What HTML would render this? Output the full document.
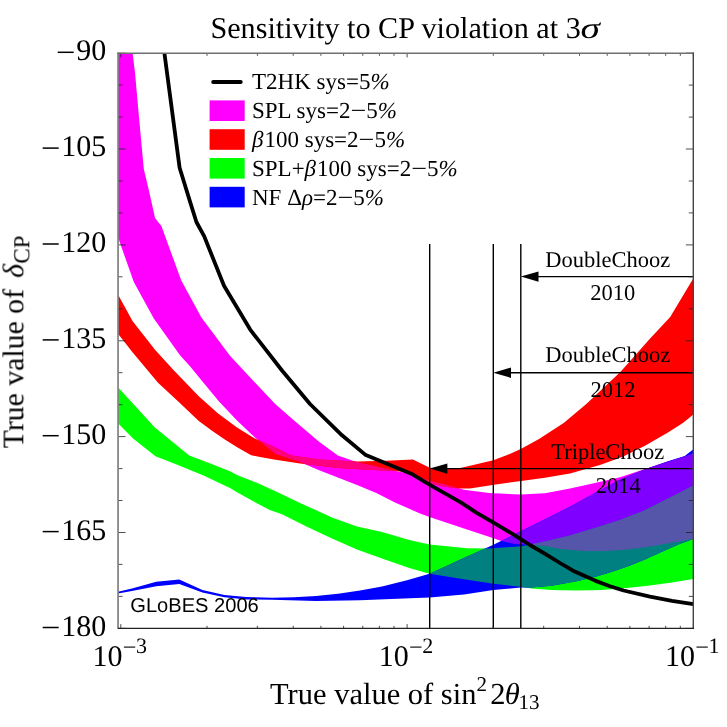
<!DOCTYPE html>
<html><head><meta charset="utf-8"><title>Sensitivity to CP violation</title>
<style>
html,body{margin:0;padding:0;background:#fff;}
body{width:727px;height:727px;overflow:hidden;font-family:"Liberation Serif",serif;}
svg{display:block}
svg text{text-rendering:geometricPrecision;font-family:"Liberation Serif",serif;fill:#000}
.sans{font-family:"Liberation Sans",sans-serif}
.it{font-style:italic}
</style></head><body>
<svg width="727" height="727" viewBox="0 0 727 727">
<defs>
<clipPath id="cf"><rect x="118.05" y="53.2" width="575.25" height="575.15"/></clipPath>
<clipPath id="cRed"><polygon points="118.0,294.5 132.5,320.9 155.0,349.7 173.5,370.0 198.5,396.0 217.8,413.3 237.0,427.4 254.4,438.2 275.5,447.4 291.6,455.6 318.5,459.5 357.0,461.4 386.0,460.8 412.9,459.5 429.7,467.8 445.0,468.8 458.0,468.4 470.0,465.8 493.3,460.3 506.5,455.3 520.8,449.0 539.0,439.0 564.0,422.8 586.3,404.0 620.1,372.2 650.1,338.4 670.2,317.1 693.4,278.3 693.4,414.4 683.2,422.7 668.0,432.5 645.4,445.4 622.7,456.7 600.0,465.1 570.0,473.4 545.0,477.8 521.0,481.0 494.0,484.8 470.0,488.4 461.3,488.5 451.0,487.8 440.6,486.0 429.5,483.3 420.0,477.8 410.9,472.4 395.5,471.0 366.7,469.7 337.8,468.1 300.0,463.4 275.5,459.7 260.0,457.0 251.2,455.3 238.0,447.8 224.8,439.6 212.0,430.8 198.5,420.8 179.3,402.6 158.0,382.8 132.5,352.3 118.0,333.8"/></clipPath>
<clipPath id="cGrn"><polygon points="118.0,387.2 133.8,404.5 154.6,427.3 189.2,455.4 209.0,463.0 230.0,471.3 237.0,475.0 256.3,482.6 275.5,491.3 300.0,502.9 332.0,517.5 357.0,526.5 382.0,532.0 409.3,540.1 429.5,544.6 467.0,548.2 489.0,548.6 521.6,546.3 545.0,541.5 570.0,535.4 595.0,528.0 620.0,520.0 645.0,510.2 670.0,497.5 693.4,485.5 693.4,578.9 672.0,582.4 650.0,585.5 626.7,588.0 601.7,589.9 576.7,590.4 551.6,589.9 531.6,588.6 520.8,586.8 493.3,583.8 464.0,579.2 429.5,573.7 409.3,568.0 382.0,558.5 357.0,549.5 332.0,538.5 307.0,526.7 282.0,514.2 269.8,510.0 256.3,502.9 237.0,492.3 230.0,488.1 204.1,475.7 176.0,464.2 155.5,456.3 133.1,438.6 118.0,423.3"/></clipPath>
<clipPath id="cBlu"><polygon points="118.0,591.7 132.0,588.4 156.2,581.8 179.3,579.6 202.4,589.9 224.4,595.0 246.4,597.1 272.0,597.8 294.0,597.2 316.0,595.9 338.0,593.7 360.0,590.6 382.0,586.5 407.0,580.2 429.5,573.7 467.0,556.5 494.0,544.4 521.0,531.0 545.0,519.2 570.0,506.6 595.0,492.9 620.0,479.6 645.0,469.2 668.0,461.3 684.7,456.0 693.4,449.2 693.4,539.0 679.0,544.2 662.5,551.6 646.0,559.0 629.5,565.8 613.0,571.6 596.5,576.5 576.7,581.2 551.6,585.8 531.6,587.4 520.8,587.6 493.3,590.0 464.0,594.6 429.7,597.4 410.0,598.3 360.0,600.3 316.0,601.0 272.0,599.8 246.4,599.5 224.4,597.3 202.4,592.5 179.3,584.1 156.2,586.3 132.0,591.0 118.0,593.6"/></clipPath>
<clipPath id="cMag"><polygon points="118.0,52.3 132.5,52.3 135.0,72.5 138.8,115.0 143.8,169.0 148.8,190.0 155.0,217.7 158.0,222.0 161.3,225.8 181.4,280.8 201.4,317.4 230.2,356.0 250.2,377.5 275.2,404.0 293.5,420.0 318.5,441.2 337.8,455.6 355.0,461.4 376.3,466.2 395.5,471.0 412.0,474.0 429.7,480.7 447.0,485.0 457.0,487.8 464.0,489.8 489.0,493.0 520.8,494.6 545.0,493.2 570.0,488.6 595.0,482.9 620.0,477.2 645.0,468.9 668.0,461.5 684.7,456.5 693.4,453.3 693.4,538.8 672.0,542.8 650.0,546.5 628.0,549.4 606.0,550.9 584.0,550.9 560.0,549.0 545.0,546.0 532.0,544.8 514.4,544.0 501.5,541.0 489.0,536.7 467.0,529.5 429.5,517.0 420.0,513.4 395.5,502.8 376.3,493.0 357.0,485.0 337.8,477.5 318.5,470.0 300.0,462.0 275.5,454.0 254.4,437.0 237.0,420.6 219.0,401.5 200.0,378.5 190.4,366.8 180.0,355.3 153.8,318.4 133.8,282.0 118.0,237.3"/></clipPath>
<filter id="idf" x="0" y="0" width="727" height="727" filterUnits="userSpaceOnUse"><feOffset dx="0" dy="0"/></filter>
</defs>
<rect width="727" height="727" fill="#fff"/>
<g clip-path="url(#cf)">
<polygon points="118.0,52.3 132.5,52.3 135.0,72.5 138.8,115.0 143.8,169.0 148.8,190.0 155.0,217.7 158.0,222.0 161.3,225.8 181.4,280.8 201.4,317.4 230.2,356.0 250.2,377.5 275.2,404.0 293.5,420.0 318.5,441.2 337.8,455.6 355.0,461.4 376.3,466.2 395.5,471.0 412.0,474.0 429.7,480.7 447.0,485.0 457.0,487.8 464.0,489.8 489.0,493.0 520.8,494.6 545.0,493.2 570.0,488.6 595.0,482.9 620.0,477.2 645.0,468.9 668.0,461.5 684.7,456.5 693.4,453.3 693.4,538.8 672.0,542.8 650.0,546.5 628.0,549.4 606.0,550.9 584.0,550.9 560.0,549.0 545.0,546.0 532.0,544.8 514.4,544.0 501.5,541.0 489.0,536.7 467.0,529.5 429.5,517.0 420.0,513.4 395.5,502.8 376.3,493.0 357.0,485.0 337.8,477.5 318.5,470.0 300.0,462.0 275.5,454.0 254.4,437.0 237.0,420.6 219.0,401.5 200.0,378.5 190.4,366.8 180.0,355.3 153.8,318.4 133.8,282.0 118.0,237.3" fill="#ff00ff"/>
<polygon points="118.0,294.5 132.5,320.9 155.0,349.7 173.5,370.0 198.5,396.0 217.8,413.3 237.0,427.4 254.4,438.2 275.5,447.4 291.6,455.6 318.5,459.5 357.0,461.4 386.0,460.8 412.9,459.5 429.7,467.8 445.0,468.8 458.0,468.4 470.0,465.8 493.3,460.3 506.5,455.3 520.8,449.0 539.0,439.0 564.0,422.8 586.3,404.0 620.1,372.2 650.1,338.4 670.2,317.1 693.4,278.3 693.4,414.4 683.2,422.7 668.0,432.5 645.4,445.4 622.7,456.7 600.0,465.1 570.0,473.4 545.0,477.8 521.0,481.0 494.0,484.8 470.0,488.4 461.3,488.5 451.0,487.8 440.6,486.0 429.5,483.3 420.0,477.8 410.9,472.4 395.5,471.0 366.7,469.7 337.8,468.1 300.0,463.4 275.5,459.7 260.0,457.0 251.2,455.3 238.0,447.8 224.8,439.6 212.0,430.8 198.5,420.8 179.3,402.6 158.0,382.8 132.5,352.3 118.0,333.8" fill="#ff0000"/>
<polygon points="118.0,387.2 133.8,404.5 154.6,427.3 189.2,455.4 209.0,463.0 230.0,471.3 237.0,475.0 256.3,482.6 275.5,491.3 300.0,502.9 332.0,517.5 357.0,526.5 382.0,532.0 409.3,540.1 429.5,544.6 467.0,548.2 489.0,548.6 521.6,546.3 545.0,541.5 570.0,535.4 595.0,528.0 620.0,520.0 645.0,510.2 670.0,497.5 693.4,485.5 693.4,578.9 672.0,582.4 650.0,585.5 626.7,588.0 601.7,589.9 576.7,590.4 551.6,589.9 531.6,588.6 520.8,586.8 493.3,583.8 464.0,579.2 429.5,573.7 409.3,568.0 382.0,558.5 357.0,549.5 332.0,538.5 307.0,526.7 282.0,514.2 269.8,510.0 256.3,502.9 237.0,492.3 230.0,488.1 204.1,475.7 176.0,464.2 155.5,456.3 133.1,438.6 118.0,423.3" fill="#00ff00"/>
<polygon points="118.0,591.7 132.0,588.4 156.2,581.8 179.3,579.6 202.4,589.9 224.4,595.0 246.4,597.1 272.0,597.8 294.0,597.2 316.0,595.9 338.0,593.7 360.0,590.6 382.0,586.5 407.0,580.2 429.5,573.7 467.0,556.5 494.0,544.4 521.0,531.0 545.0,519.2 570.0,506.6 595.0,492.9 620.0,479.6 645.0,469.2 668.0,461.3 684.7,456.0 693.4,449.2 693.4,539.0 679.0,544.2 662.5,551.6 646.0,559.0 629.5,565.8 613.0,571.6 596.5,576.5 576.7,581.2 551.6,585.8 531.6,587.4 520.8,587.6 493.3,590.0 464.0,594.6 429.7,597.4 410.0,598.3 360.0,600.3 316.0,601.0 272.0,599.8 246.4,599.5 224.4,597.3 202.4,592.5 179.3,584.1 156.2,586.3 132.0,591.0 118.0,593.6" fill="#0000ff"/>
<g clip-path="url(#cRed)"><polygon points="118.0,52.3 132.5,52.3 135.0,72.5 138.8,115.0 143.8,169.0 148.8,190.0 155.0,217.7 158.0,222.0 161.3,225.8 181.4,280.8 201.4,317.4 230.2,356.0 250.2,377.5 275.2,404.0 293.5,420.0 318.5,441.2 337.8,455.6 355.0,461.4 376.3,466.2 395.5,471.0 412.0,474.0 429.7,480.7 447.0,485.0 457.0,487.8 464.0,489.8 489.0,493.0 520.8,494.6 545.0,493.2 570.0,488.6 595.0,482.9 620.0,477.2 645.0,468.9 668.0,461.5 684.7,456.5 693.4,453.3 693.4,538.8 672.0,542.8 650.0,546.5 628.0,549.4 606.0,550.9 584.0,550.9 560.0,549.0 545.0,546.0 532.0,544.8 514.4,544.0 501.5,541.0 489.0,536.7 467.0,529.5 429.5,517.0 420.0,513.4 395.5,502.8 376.3,493.0 357.0,485.0 337.8,477.5 318.5,470.0 300.0,462.0 275.5,454.0 254.4,437.0 237.0,420.6 219.0,401.5 200.0,378.5 190.4,366.8 180.0,355.3 153.8,318.4 133.8,282.0 118.0,237.3" fill="#ff0080"/></g>
<g clip-path="url(#cGrn)"><polygon points="118.0,52.3 132.5,52.3 135.0,72.5 138.8,115.0 143.8,169.0 148.8,190.0 155.0,217.7 158.0,222.0 161.3,225.8 181.4,280.8 201.4,317.4 230.2,356.0 250.2,377.5 275.2,404.0 293.5,420.0 318.5,441.2 337.8,455.6 355.0,461.4 376.3,466.2 395.5,471.0 412.0,474.0 429.7,480.7 447.0,485.0 457.0,487.8 464.0,489.8 489.0,493.0 520.8,494.6 545.0,493.2 570.0,488.6 595.0,482.9 620.0,477.2 645.0,468.9 668.0,461.5 684.7,456.5 693.4,453.3 693.4,538.8 672.0,542.8 650.0,546.5 628.0,549.4 606.0,550.9 584.0,550.9 560.0,549.0 545.0,546.0 532.0,544.8 514.4,544.0 501.5,541.0 489.0,536.7 467.0,529.5 429.5,517.0 420.0,513.4 395.5,502.8 376.3,493.0 357.0,485.0 337.8,477.5 318.5,470.0 300.0,462.0 275.5,454.0 254.4,437.0 237.0,420.6 219.0,401.5 200.0,378.5 190.4,366.8 180.0,355.3 153.8,318.4 133.8,282.0 118.0,237.3" fill="#808080"/></g>
<g clip-path="url(#cBlu)"><polygon points="118.0,52.3 132.5,52.3 135.0,72.5 138.8,115.0 143.8,169.0 148.8,190.0 155.0,217.7 158.0,222.0 161.3,225.8 181.4,280.8 201.4,317.4 230.2,356.0 250.2,377.5 275.2,404.0 293.5,420.0 318.5,441.2 337.8,455.6 355.0,461.4 376.3,466.2 395.5,471.0 412.0,474.0 429.7,480.7 447.0,485.0 457.0,487.8 464.0,489.8 489.0,493.0 520.8,494.6 545.0,493.2 570.0,488.6 595.0,482.9 620.0,477.2 645.0,468.9 668.0,461.5 684.7,456.5 693.4,453.3 693.4,538.8 672.0,542.8 650.0,546.5 628.0,549.4 606.0,550.9 584.0,550.9 560.0,549.0 545.0,546.0 532.0,544.8 514.4,544.0 501.5,541.0 489.0,536.7 467.0,529.5 429.5,517.0 420.0,513.4 395.5,502.8 376.3,493.0 357.0,485.0 337.8,477.5 318.5,470.0 300.0,462.0 275.5,454.0 254.4,437.0 237.0,420.6 219.0,401.5 200.0,378.5 190.4,366.8 180.0,355.3 153.8,318.4 133.8,282.0 118.0,237.3" fill="#8000ff"/></g>
<g clip-path="url(#cBlu)"><polygon points="118.0,387.2 133.8,404.5 154.6,427.3 189.2,455.4 209.0,463.0 230.0,471.3 237.0,475.0 256.3,482.6 275.5,491.3 300.0,502.9 332.0,517.5 357.0,526.5 382.0,532.0 409.3,540.1 429.5,544.6 467.0,548.2 489.0,548.6 521.6,546.3 545.0,541.5 570.0,535.4 595.0,528.0 620.0,520.0 645.0,510.2 670.0,497.5 693.4,485.5 693.4,578.9 672.0,582.4 650.0,585.5 626.7,588.0 601.7,589.9 576.7,590.4 551.6,589.9 531.6,588.6 520.8,586.8 493.3,583.8 464.0,579.2 429.5,573.7 409.3,568.0 382.0,558.5 357.0,549.5 332.0,538.5 307.0,526.7 282.0,514.2 269.8,510.0 256.3,502.9 237.0,492.3 230.0,488.1 204.1,475.7 176.0,464.2 155.5,456.3 133.1,438.6 118.0,423.3" fill="#008080"/></g>
<g clip-path="url(#cBlu)"><g clip-path="url(#cGrn)"><polygon points="118.0,52.3 132.5,52.3 135.0,72.5 138.8,115.0 143.8,169.0 148.8,190.0 155.0,217.7 158.0,222.0 161.3,225.8 181.4,280.8 201.4,317.4 230.2,356.0 250.2,377.5 275.2,404.0 293.5,420.0 318.5,441.2 337.8,455.6 355.0,461.4 376.3,466.2 395.5,471.0 412.0,474.0 429.7,480.7 447.0,485.0 457.0,487.8 464.0,489.8 489.0,493.0 520.8,494.6 545.0,493.2 570.0,488.6 595.0,482.9 620.0,477.2 645.0,468.9 668.0,461.5 684.7,456.5 693.4,453.3 693.4,538.8 672.0,542.8 650.0,546.5 628.0,549.4 606.0,550.9 584.0,550.9 560.0,549.0 545.0,546.0 532.0,544.8 514.4,544.0 501.5,541.0 489.0,536.7 467.0,529.5 429.5,517.0 420.0,513.4 395.5,502.8 376.3,493.0 357.0,485.0 337.8,477.5 318.5,470.0 300.0,462.0 275.5,454.0 254.4,437.0 237.0,420.6 219.0,401.5 200.0,378.5 190.4,366.8 180.0,355.3 153.8,318.4 133.8,282.0 118.0,237.3" fill="#5555aa"/></g></g>
<polyline points="164.3,52.3 179.6,167.7 190.5,203.1 196.4,222.0 204.0,235.8 224.0,285.8 250.2,329.6 282.0,370.5 310.0,404.0 342.0,435.3 365.8,455.1 411.2,473.7 429.5,484.7 461.2,502.6 476.7,512.8 494.0,522.8 513.2,534.4 530.0,545.0 546.0,554.3 560.0,563.0 573.0,570.7 595.0,580.6 610.0,586.2 623.6,590.5 650.0,596.7 672.0,600.8 693.4,604.2" fill="none" stroke="#000" stroke-width="3.8" stroke-linejoin="round"/>
</g>
<line x1="429.7" y1="244" x2="429.7" y2="628.4" stroke="#000" stroke-width="1.4"/>
<line x1="493.3" y1="244" x2="493.3" y2="628.4" stroke="#000" stroke-width="1.4"/>
<line x1="520.8" y1="244" x2="520.8" y2="628.4" stroke="#000" stroke-width="1.4"/>
<line x1="530.8" y1="276.6" x2="693.3" y2="276.6" stroke="#000" stroke-width="1.4"/>
<polygon points="520.8,276.6 538.5,271.4 538.5,281.8" fill="#000"/>
<line x1="503.3" y1="372.7" x2="693.3" y2="372.7" stroke="#000" stroke-width="1.4"/>
<polygon points="493.3,372.7 511.0,367.5 511.0,377.9" fill="#000"/>
<line x1="439.7" y1="468.6" x2="693.3" y2="468.6" stroke="#000" stroke-width="1.4"/>
<polygon points="429.7,468.6 447.4,463.4 447.4,473.8" fill="#000"/>

<g stroke="#222" stroke-width="0.8">
<line x1="118.0" y1="628.4" x2="125.5" y2="628.4"/>
<line x1="693.3" y1="628.4" x2="685.9" y2="628.4"/>
<line x1="118.0" y1="596.4" x2="122.5" y2="596.4"/>
<line x1="693.3" y1="596.4" x2="688.8" y2="596.4"/>
<line x1="118.0" y1="564.4" x2="122.5" y2="564.4"/>
<line x1="693.3" y1="564.4" x2="688.8" y2="564.4"/>
<line x1="118.0" y1="532.5" x2="125.5" y2="532.5"/>
<line x1="693.3" y1="532.5" x2="685.9" y2="532.5"/>
<line x1="118.0" y1="500.5" x2="122.5" y2="500.5"/>
<line x1="693.3" y1="500.5" x2="688.8" y2="500.5"/>
<line x1="118.0" y1="468.6" x2="122.5" y2="468.6"/>
<line x1="693.3" y1="468.6" x2="688.8" y2="468.6"/>
<line x1="118.0" y1="436.6" x2="125.5" y2="436.6"/>
<line x1="693.3" y1="436.6" x2="685.9" y2="436.6"/>
<line x1="118.0" y1="404.7" x2="122.5" y2="404.7"/>
<line x1="693.3" y1="404.7" x2="688.8" y2="404.7"/>
<line x1="118.0" y1="372.7" x2="122.5" y2="372.7"/>
<line x1="693.3" y1="372.7" x2="688.8" y2="372.7"/>
<line x1="118.0" y1="340.8" x2="125.5" y2="340.8"/>
<line x1="693.3" y1="340.8" x2="685.9" y2="340.8"/>
<line x1="118.0" y1="308.8" x2="122.5" y2="308.8"/>
<line x1="693.3" y1="308.8" x2="688.8" y2="308.8"/>
<line x1="118.0" y1="276.8" x2="122.5" y2="276.8"/>
<line x1="693.3" y1="276.8" x2="688.8" y2="276.8"/>
<line x1="118.0" y1="244.9" x2="125.5" y2="244.9"/>
<line x1="693.3" y1="244.9" x2="685.9" y2="244.9"/>
<line x1="118.0" y1="212.9" x2="122.5" y2="212.9"/>
<line x1="693.3" y1="212.9" x2="688.8" y2="212.9"/>
<line x1="118.0" y1="181.0" x2="122.5" y2="181.0"/>
<line x1="693.3" y1="181.0" x2="688.8" y2="181.0"/>
<line x1="118.0" y1="149.0" x2="125.5" y2="149.0"/>
<line x1="693.3" y1="149.0" x2="685.9" y2="149.0"/>
<line x1="118.0" y1="117.1" x2="122.5" y2="117.1"/>
<line x1="693.3" y1="117.1" x2="688.8" y2="117.1"/>
<line x1="118.0" y1="85.1" x2="122.5" y2="85.1"/>
<line x1="693.3" y1="85.1" x2="688.8" y2="85.1"/>
<line x1="118.0" y1="53.2" x2="125.5" y2="53.2"/>
<line x1="693.3" y1="53.2" x2="685.9" y2="53.2"/>
<line x1="120.8" y1="628.4" x2="120.8" y2="624.1"/>
<line x1="120.8" y1="53.2" x2="120.8" y2="57.4"/>
<line x1="207.0" y1="628.4" x2="207.0" y2="625.8"/>
<line x1="207.0" y1="53.2" x2="207.0" y2="55.8"/>
<line x1="257.4" y1="628.4" x2="257.4" y2="625.8"/>
<line x1="257.4" y1="53.2" x2="257.4" y2="55.8"/>
<line x1="293.2" y1="628.4" x2="293.2" y2="625.8"/>
<line x1="293.2" y1="53.2" x2="293.2" y2="55.8"/>
<line x1="320.9" y1="628.4" x2="320.9" y2="625.8"/>
<line x1="320.9" y1="53.2" x2="320.9" y2="55.8"/>
<line x1="343.6" y1="628.4" x2="343.6" y2="625.8"/>
<line x1="343.6" y1="53.2" x2="343.6" y2="55.8"/>
<line x1="362.8" y1="628.4" x2="362.8" y2="625.8"/>
<line x1="362.8" y1="53.2" x2="362.8" y2="55.8"/>
<line x1="379.4" y1="628.4" x2="379.4" y2="625.8"/>
<line x1="379.4" y1="53.2" x2="379.4" y2="55.8"/>
<line x1="394.0" y1="628.4" x2="394.0" y2="625.8"/>
<line x1="394.0" y1="53.2" x2="394.0" y2="55.8"/>
<line x1="407.1" y1="628.4" x2="407.1" y2="624.1"/>
<line x1="407.1" y1="53.2" x2="407.1" y2="57.4"/>
<line x1="493.3" y1="628.4" x2="493.3" y2="625.8"/>
<line x1="493.3" y1="53.2" x2="493.3" y2="55.8"/>
<line x1="543.7" y1="628.4" x2="543.7" y2="625.8"/>
<line x1="543.7" y1="53.2" x2="543.7" y2="55.8"/>
<line x1="579.5" y1="628.4" x2="579.5" y2="625.8"/>
<line x1="579.5" y1="53.2" x2="579.5" y2="55.8"/>
<line x1="607.2" y1="628.4" x2="607.2" y2="625.8"/>
<line x1="607.2" y1="53.2" x2="607.2" y2="55.8"/>
<line x1="629.9" y1="628.4" x2="629.9" y2="625.8"/>
<line x1="629.9" y1="53.2" x2="629.9" y2="55.8"/>
<line x1="649.1" y1="628.4" x2="649.1" y2="625.8"/>
<line x1="649.1" y1="53.2" x2="649.1" y2="55.8"/>
<line x1="665.7" y1="628.4" x2="665.7" y2="625.8"/>
<line x1="665.7" y1="53.2" x2="665.7" y2="55.8"/>
<line x1="680.3" y1="628.4" x2="680.3" y2="625.8"/>
<line x1="680.3" y1="53.2" x2="680.3" y2="55.8"/>
<line x1="693.4" y1="628.4" x2="693.4" y2="624.1"/>
<line x1="693.4" y1="53.2" x2="693.4" y2="57.4"/>
</g>
<line x1="118.05" y1="52.5" x2="118.05" y2="628.85" stroke="#808080" stroke-width="1.7"/>
<line x1="117.25" y1="53.2" x2="694.0" y2="53.2" stroke="#707070" stroke-width="1.5"/>
<line x1="693.3" y1="52.5" x2="693.3" y2="628.85" stroke="#444" stroke-width="1.4"/>
<line x1="117.85" y1="628.35" x2="694.0" y2="628.35" stroke="#222" stroke-width="1.1"/>
<g filter="url(#idf)">
<!-- legend -->
<line x1="213.2" y1="82" x2="240.7" y2="82" stroke="#000" stroke-width="4" stroke-linecap="round"/>
<rect x="209.6" y="100.4" width="35.1" height="20.6" fill="#ff00ff"/>
<rect x="209.6" y="129.2" width="35.1" height="20.6" fill="#ff0000"/>
<rect x="209.6" y="158" width="35.1" height="20.6" fill="#00ff00"/>
<rect x="209.6" y="186.8" width="35.1" height="20.6" fill="#0000ff"/>
<text x="252.00" y="89.3" font-size="23">T2HK sys=5</text>
<text x="370.39" y="89.3" font-size="23" class="it">%</text>
<text x="252.00" y="118.1" font-size="23">SPL sys=2</text>
<text x="350.40" y="118.1" font-size="23" textLength="15.8" lengthAdjust="spacingAndGlyphs">−</text>
<text x="366.20" y="118.1" font-size="23">5</text>
<text x="377.70" y="118.1" font-size="23" class="it">%</text>
<text x="252.00" y="146.9" font-size="23" class="it">β</text>
<text x="264.46" y="146.9" font-size="23">100 sys=2</text>
<text x="358.58" y="146.9" font-size="23" textLength="15.8" lengthAdjust="spacingAndGlyphs">−</text>
<text x="374.38" y="146.9" font-size="23">5</text>
<text x="385.88" y="146.9" font-size="23" class="it">%</text>
<text x="252.00" y="175.7" font-size="23">SPL+</text>
<text x="304.60" y="175.7" font-size="23" class="it">β</text>
<text x="317.06" y="175.7" font-size="23">100 sys=2</text>
<text x="411.18" y="175.7" font-size="23" textLength="15.8" lengthAdjust="spacingAndGlyphs">−</text>
<text x="426.98" y="175.7" font-size="23">5</text>
<text x="438.48" y="175.7" font-size="23" class="it">%</text>
<text x="252.00" y="204.5" font-size="23">NF Δ</text>
<text x="301.94" y="204.5" font-size="23" class="it">ρ</text>
<text x="312.98" y="204.5" font-size="23">=2</text>
<text x="337.45" y="204.5" font-size="23" textLength="15.8" lengthAdjust="spacingAndGlyphs">−</text>
<text x="353.25" y="204.5" font-size="23">5</text>
<text x="364.75" y="204.5" font-size="23" class="it">%</text>
<!-- title -->
<text x="210.4" y="37.9" font-size="30.2">Sensitivity to CP violation at 3</text><text x="580.62" y="37.9" font-size="30.2" class="it" textLength="19.4" lengthAdjust="spacingAndGlyphs">σ</text>
<!-- axis labels -->
<text x="61.2" y="635.6" font-size="30">180</text><line x1="42.7" y1="627.5" x2="58.7" y2="627.5" stroke="#000" stroke-width="1.5"/>
<text x="61.2" y="539.7" font-size="30">165</text><line x1="42.7" y1="531.6" x2="58.7" y2="531.6" stroke="#000" stroke-width="1.5"/>
<text x="61.2" y="443.8" font-size="30">150</text><line x1="42.7" y1="435.7" x2="58.7" y2="435.7" stroke="#000" stroke-width="1.5"/>
<text x="61.2" y="348.0" font-size="30">135</text><line x1="42.7" y1="339.9" x2="58.7" y2="339.9" stroke="#000" stroke-width="1.5"/>
<text x="61.2" y="252.1" font-size="30">120</text><line x1="42.7" y1="244.0" x2="58.7" y2="244.0" stroke="#000" stroke-width="1.5"/>
<text x="61.2" y="156.2" font-size="30">105</text><line x1="42.7" y1="148.1" x2="58.7" y2="148.1" stroke="#000" stroke-width="1.5"/>
<text x="76.2" y="60.4" font-size="30">90</text><line x1="57.7" y1="52.3" x2="73.7" y2="52.3" stroke="#000" stroke-width="1.5"/>
<text x="122.5" y="666" font-size="30" text-anchor="end">10</text><line x1="123.9" y1="647.1" x2="135.2" y2="647.1" stroke="#000" stroke-width="1.1"/><text x="135.9" y="652.8" font-size="22">3</text>
<text x="408.8" y="666" font-size="30" text-anchor="end">10</text><line x1="410.2" y1="647.1" x2="421.5" y2="647.1" stroke="#000" stroke-width="1.1"/><text x="422.2" y="652.8" font-size="22">2</text>
<text x="695.1" y="666" font-size="30" text-anchor="end">10</text><line x1="696.5" y1="647.1" x2="707.8" y2="647.1" stroke="#000" stroke-width="1.1"/><text x="708.5" y="652.8" font-size="22">1</text>
<text x="270" y="704" font-size="30.5">True value of sin<tspan font-size="21" dy="-13.5" dx="0">2</tspan><tspan dy="13.5" dx="3.3">2</tspan><tspan class="it" dx="-0.7">θ</tspan><tspan font-size="21" dy="5" dx="-1.3">13</tspan></text>
<text transform="translate(23.3,448.4) rotate(-90)" font-size="29.8">True value of <tspan class="it" dx="3.5">δ</tspan><tspan font-size="23" dy="6.3" dx="0.5">CP</tspan></text>
<!-- annotations -->
<g font-size="22.5">
<text x="545.3" y="266.9">DoubleChooz</text>
<text x="590.2" y="300.2">2010</text>
<text x="545.3" y="362.2">DoubleChooz</text>
<text x="590.4" y="396.5">2012</text>
<text x="551.2" y="459.1">TripleChooz</text>
<text x="595.8" y="492.9">2014</text>
</g>
<text class="sans" x="130.3" y="611.6" font-size="20.1">GLoBES 2006</text>
</g>
</svg>
</body></html>
